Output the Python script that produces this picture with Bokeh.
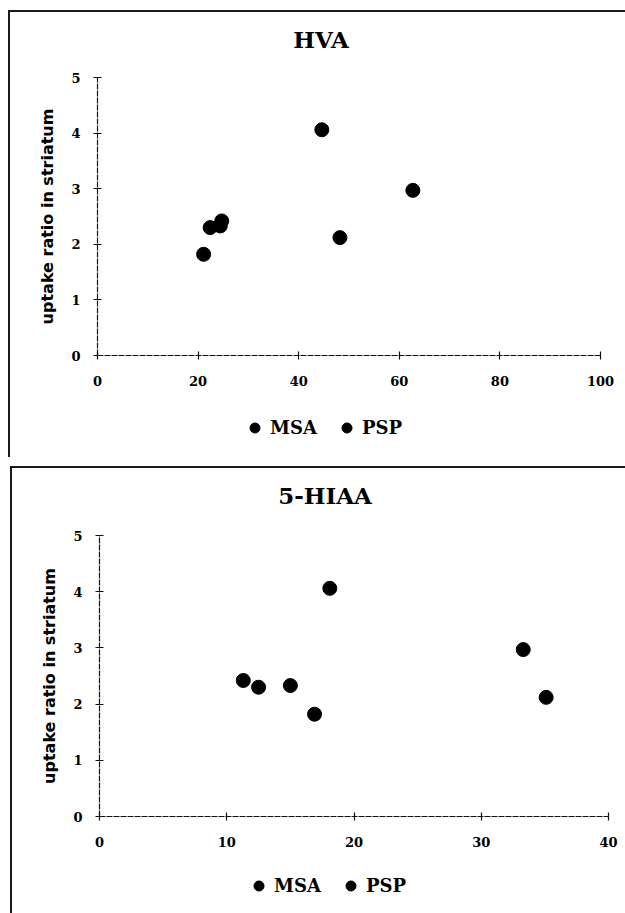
from bokeh.plotting import figure
from bokeh.models import Legend, LegendItem, FixedTicker, Range1d, Div
from bokeh.layouts import column
from bokeh.embed import file_html
from bokeh.resources import INLINE

# Striatal uptake ratio per patient, with CSF HVA and 5-HIAA levels
msa_ratio = [1.82, 2.42, 2.30, 2.33]
msa_hva = [21.1, 24.7, 22.4, 24.4]
msa_hiaa = [16.9, 11.3, 12.5, 15.0]

psp_ratio = [4.06, 2.97, 2.12]
psp_hva = [44.6, 62.7, 48.2]
psp_hiaa = [18.1, 33.3, 35.1]

hva_ticks = [0, 20, 40, 60, 80, 100]
hiaa_ticks = [0, 10, 20, 30, 40]
ratio_ticks = [0, 1, 2, 3, 4, 5]

SERIF = "DejaVu Serif"
SANS = "DejaVu Sans"
INK = "#111111"
TITLE_H = 56


def heading(text, width, indent):
    return Div(text=text, width=width, height=TITLE_H, margin=0, styles={
        "font-family": SERIF, "font-weight": "bold", "font-size": "23px",
        "line-height": f"{TITLE_H}px", "text-align": "center",
        "text-indent": f"{indent}px", "color": "black", "white-space": "nowrap",
    })


def fit_range(v0, v1, px0, px1, lo, hi):
    """Range whose values v0, v1 land on canvas pixels px0, px1 of a frame spanning lo..hi."""
    k = (v1 - v0) / (px1 - px0)
    return Range1d(v0 + (lo - px0) * k, v0 + (hi - px0) * k)


def scatter_panel(xs_msa, xs_psp, x_ticks, width, height, x_px, y_px, legend_loc):
    # the frame fills the canvas; axes sit on the zero lines inside it
    p = figure(
        width=width, height=height,
        x_range=fit_range(x_ticks[0], x_ticks[-1], x_px[0], x_px[1], 0, width),
        y_range=fit_range(ratio_ticks[0], ratio_ticks[-1], y_px[0], y_px[1], height, 0),
        output_backend="svg", toolbar_location=None,
        min_border=0,
    )
    p.grid.visible = False
    p.outline_line_color = None
    p.background_fill_color = "white"
    p.border_fill_color = "white"

    p.xaxis.ticker = FixedTicker(ticks=x_ticks)
    p.yaxis.ticker = FixedTicker(ticks=ratio_ticks)
    p.xaxis.fixed_location = ratio_ticks[0]
    p.yaxis.fixed_location = x_ticks[0]
    p.xaxis.bounds = (x_ticks[0], x_ticks[-1])
    p.yaxis.bounds = (ratio_ticks[0], ratio_ticks[-1])
    for ax in (p.xaxis, p.yaxis):
        ax.axis_line_color = INK
        ax.axis_line_width = 1.2
        ax.axis_line_dash = "6 1"
        ax.major_tick_in = 4
        ax.major_tick_out = 4
        ax.major_tick_line_color = INK
        ax.major_tick_line_width = 1.2
        ax.minor_tick_line_color = None
        ax.major_label_text_font = SERIF
        ax.major_label_text_font_style = "bold"
        ax.major_label_text_font_size = "13px"
        ax.major_label_text_color = "black"
    p.xaxis.major_label_standoff = 16
    p.yaxis.major_label_standoff = 13
    p.yaxis.axis_label = "uptake ratio in striatum"
    p.yaxis.axis_label_text_font = SANS
    p.yaxis.axis_label_text_font_style = "bold"
    p.yaxis.axis_label_text_font_size = "16px"
    p.yaxis.axis_label_text_color = "black"
    p.yaxis.axis_label_standoff = 11

    r_msa = p.scatter(xs_msa, msa_ratio, size=14, color="black")
    r_psp = p.scatter(xs_psp, psp_ratio, size=14, color="black")

    legend = Legend(
        items=[LegendItem(label="MSA", renderers=[r_msa]),
               LegendItem(label="PSP", renderers=[r_psp])],
        orientation="horizontal", location=legend_loc,
        glyph_width=25, glyph_height=25, label_standoff=3, spacing=14,
        label_width=50, padding=0, margin=0,
        border_line_color=None, background_fill_alpha=0,
        label_text_font=SERIF, label_text_font_style="bold",
        label_text_font_size="18px", label_text_color="black",
        label_text_baseline="middle",
    )
    p.add_layout(legend)
    return p


panel_border = {"border-left": "2px solid #1a1a1a", "border-top": "2px solid #1a1a1a"}

# upper panel: canvas x 10..625, y 68..457 on the page
top_fig = scatter_panel(msa_hva, psp_hva, hva_ticks, 615, 389,
                        (87, 590), (287, 9), (232, 17))
top = column(heading("HVA", 615, 7), top_fig, styles=panel_border)
top.margin = (10, 0, 0, 8)

# lower panel: canvas x 12..625, y 524..913 on the page
bottom_fig = scatter_panel(msa_hiaa, psp_hiaa, hiaa_ticks, 613, 389,
                           (87, 596), (292, 11), (234, 15))
bottom = column(heading("5-HIAA", 613, 13), bottom_fig, styles=panel_border)
bottom.margin = (9, 0, 0, 10)

layout = column(top, bottom)

open("out.html", "w").write(file_html(layout, INLINE))
